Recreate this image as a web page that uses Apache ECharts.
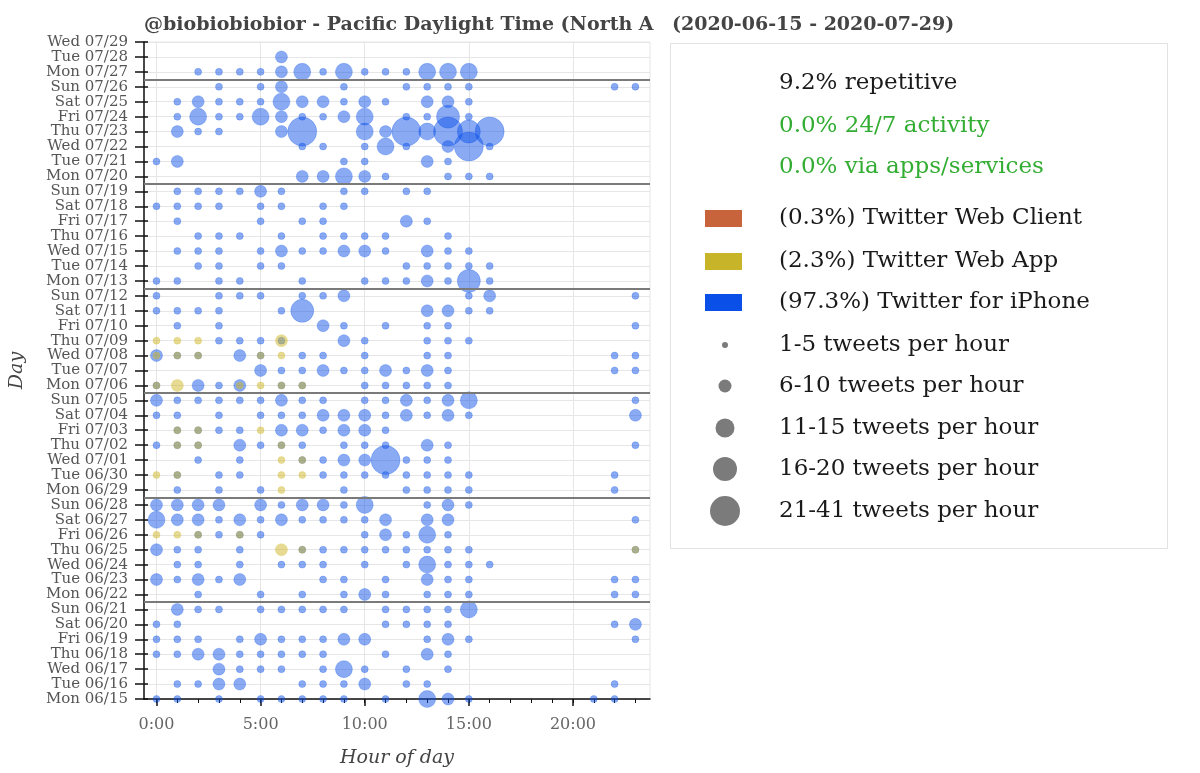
<!DOCTYPE html>
<html>
<head>
<meta charset="utf-8">
<script src="https://cdn.jsdelivr.net/npm/echarts@6/dist/echarts.min.js"></script>
<style>
    html, body { margin: 0; padding: 0; background: #fff; }
    #chart { width: 1200px; height: 773px; }
</style>
</head>
<body>
<div id="chart"></div>
<script>
// day rows, bottom (index 0) to top
const days = ['Mon 06/15', 'Tue 06/16', 'Wed 06/17', 'Thu 06/18', 'Fri 06/19', 'Sat 06/20', 'Sun 06/21',
    'Mon 06/22', 'Tue 06/23', 'Wed 06/24', 'Thu 06/25', 'Fri 06/26', 'Sat 06/27', 'Sun 06/28',
    'Mon 06/29', 'Tue 06/30', 'Wed 07/01', 'Thu 07/02', 'Fri 07/03', 'Sat 07/04', 'Sun 07/05',
    'Mon 07/06', 'Tue 07/07', 'Wed 07/08', 'Thu 07/09', 'Fri 07/10', 'Sat 07/11', 'Sun 07/12',
    'Mon 07/13', 'Tue 07/14', 'Wed 07/15', 'Thu 07/16', 'Fri 07/17', 'Sat 07/18', 'Sun 07/19',
    'Mon 07/20', 'Tue 07/21', 'Wed 07/22', 'Thu 07/23', 'Fri 07/24', 'Sat 07/25', 'Sun 07/26',
    'Mon 07/27', 'Tue 07/28', 'Wed 07/29'];

const hourTicks = [0, 5, 10, 15, 20];
const hourLabels = ['0:00', '5:00', '10:00', '15:00', '20:00'];
const minorHours = [0, 1, 2, 3, 4, 5, 6, 7, 8, 9, 10, 11, 12, 13, 14, 15, 16, 17, 18, 19, 20, 21, 22, 23];

// tweets per hour, [hour, count]
const iphoneTweets = [
    ['07/28', [[6, 8]]],
    ['07/27', [[2, 3], [3, 3], [4, 3], [5, 3], [6, 8], [7, 13], [8, 3], [9, 13], [10, 3], [11, 3], [12, 3], [13, 13], [14, 13], [15, 13]]],
    ['07/26', [[3, 3], [5, 3], [6, 8], [9, 3], [12, 3], [13, 3], [14, 3], [15, 3], [22, 3], [23, 3]]],
    ['07/25', [[1, 3], [2, 8], [3, 3], [4, 3], [5, 3], [6, 13], [7, 8], [8, 8], [9, 3], [10, 8], [11, 3], [13, 8], [14, 8], [15, 3]]],
    ['07/24', [[1, 3], [2, 13], [3, 3], [4, 3], [5, 13], [6, 8], [7, 3], [8, 3], [9, 8], [10, 13], [12, 3], [13, 3], [14, 18], [15, 3]]],
    ['07/23', [[1, 8], [2, 3], [3, 3], [6, 8], [7, 30], [10, 13], [11, 8], [12, 30], [13, 13], [14, 30], [15, 18], [16, 30]]],
    ['07/22', [[7, 3], [8, 3], [10, 3], [11, 13], [12, 3], [14, 8], [15, 30], [16, 3]]],
    ['07/21', [[0, 3], [1, 8], [9, 3], [10, 3], [13, 8], [14, 3]]],
    ['07/20', [[7, 8], [8, 8], [9, 13], [10, 8], [11, 3], [14, 3], [15, 3], [16, 3]]],
    ['07/19', [[1, 3], [2, 3], [3, 3], [4, 3], [5, 8], [6, 3], [9, 3], [10, 3], [12, 3], [13, 3]]],
    ['07/18', [[0, 3], [1, 3], [2, 3], [3, 3], [5, 3], [6, 3], [8, 3], [9, 3]]],
    ['07/17', [[1, 3], [5, 3], [7, 3], [8, 3], [12, 8], [13, 3]]],
    ['07/16', [[2, 3], [3, 3], [4, 3], [6, 3], [8, 3], [9, 3], [10, 3], [11, 3], [14, 3]]],
    ['07/15', [[1, 3], [2, 3], [3, 3], [5, 3], [6, 8], [7, 3], [8, 3], [9, 8], [10, 8], [11, 3], [13, 8], [14, 3], [15, 3]]],
    ['07/14', [[2, 3], [3, 3], [5, 3], [6, 3], [12, 3], [13, 3], [14, 3], [15, 3], [16, 3]]],
    ['07/13', [[0, 3], [1, 3], [3, 3], [4, 3], [7, 3], [10, 3], [11, 3], [12, 3], [13, 8], [14, 3], [15, 18], [16, 3]]],
    ['07/12', [[0, 3], [3, 3], [4, 3], [5, 3], [7, 3], [8, 3], [9, 8], [15, 3], [16, 8], [23, 3]]],
    ['07/11', [[0, 3], [1, 3], [2, 3], [3, 3], [6, 3], [7, 18], [13, 8], [14, 8], [15, 3], [16, 3]]],
    ['07/10', [[1, 3], [3, 3], [8, 8], [9, 3], [11, 3], [13, 3], [14, 3], [23, 3]]],
    ['07/09', [[3, 3], [4, 3], [5, 3], [6, 3], [9, 8], [10, 3], [13, 3], [14, 3], [15, 3]]],
    ['07/08', [[0, 8], [1, 3], [2, 3], [4, 8], [5, 3], [7, 3], [8, 3], [10, 3], [13, 3], [14, 3], [22, 3], [23, 3]]],
    ['07/07', [[5, 8], [6, 3], [7, 3], [8, 8], [9, 3], [10, 3], [11, 8], [12, 3], [13, 8], [14, 3], [22, 3], [23, 3]]],
    ['07/06', [[0, 3], [2, 8], [3, 3], [4, 8], [6, 3], [7, 3], [10, 3], [11, 3], [12, 3], [13, 3], [14, 3]]],
    ['07/05', [[0, 8], [1, 3], [2, 3], [3, 3], [4, 3], [5, 3], [6, 8], [7, 3], [8, 3], [10, 3], [11, 3], [12, 8], [13, 3], [14, 8], [15, 13], [23, 3]]],
    ['07/04', [[0, 3], [1, 3], [3, 3], [5, 3], [6, 3], [7, 3], [8, 8], [9, 8], [10, 8], [11, 3], [12, 8], [13, 3], [14, 8], [15, 3], [23, 8]]],
    ['07/03', [[1, 3], [2, 3], [3, 3], [4, 3], [6, 8], [7, 8], [8, 3], [9, 8], [10, 8], [11, 3]]],
    ['07/02', [[0, 3], [1, 3], [2, 3], [4, 8], [5, 3], [6, 3], [7, 3], [9, 3], [10, 3], [11, 3], [13, 8], [14, 3], [23, 3]]],
    ['07/01', [[2, 3], [4, 3], [7, 3], [8, 3], [9, 8], [10, 8], [11, 30], [12, 3], [13, 3], [14, 3]]],
    ['06/30', [[1, 3], [3, 3], [4, 3], [8, 3], [9, 3], [10, 3], [11, 3], [12, 3], [13, 3], [14, 3], [15, 3], [22, 3]]],
    ['06/29', [[1, 3], [3, 3], [5, 3], [9, 3], [12, 3], [13, 3], [14, 3], [15, 3], [22, 3]]],
    ['06/28', [[0, 8], [1, 8], [2, 8], [3, 8], [5, 8], [6, 3], [7, 8], [8, 8], [9, 3], [10, 13], [13, 3], [14, 10], [15, 3]]],
    ['06/27', [[0, 13], [1, 8], [2, 8], [3, 3], [4, 8], [5, 3], [6, 8], [7, 3], [8, 3], [9, 3], [10, 3], [11, 8], [13, 8], [14, 8], [23, 3]]],
    ['06/26', [[2, 3], [3, 3], [4, 3], [5, 3], [10, 3], [11, 8], [12, 3], [13, 13], [14, 3]]],
    ['06/25', [[0, 8], [1, 3], [2, 3], [4, 3], [7, 3], [8, 3], [9, 3], [10, 3], [11, 3], [12, 3], [13, 3], [14, 3], [15, 3], [23, 3]]],
    ['06/24', [[1, 3], [2, 3], [4, 3], [6, 3], [7, 3], [8, 3], [10, 3], [12, 3], [13, 13], [14, 3], [15, 3], [16, 3]]],
    ['06/23', [[0, 8], [1, 3], [2, 8], [3, 3], [4, 8], [8, 3], [9, 3], [11, 3], [13, 8], [14, 3], [15, 3], [22, 3], [23, 3]]],
    ['06/22', [[2, 3], [5, 3], [7, 3], [9, 3], [10, 8], [11, 3], [13, 3], [14, 3], [15, 3], [22, 3], [23, 3]]],
    ['06/21', [[1, 8], [2, 3], [3, 3], [5, 3], [6, 3], [7, 3], [8, 3], [9, 3], [11, 3], [12, 3], [13, 3], [14, 3], [15, 13]]],
    ['06/20', [[0, 3], [1, 3], [11, 3], [12, 3], [13, 3], [14, 3], [22, 3], [23, 8]]],
    ['06/19', [[0, 3], [1, 3], [2, 3], [4, 3], [5, 8], [6, 3], [7, 3], [8, 3], [9, 8], [10, 8], [13, 3], [14, 8], [15, 3], [23, 3]]],
    ['06/18', [[0, 3], [1, 3], [2, 8], [3, 8], [4, 3], [5, 3], [6, 3], [7, 3], [8, 3], [11, 3], [13, 8], [14, 3]]],
    ['06/17', [[3, 8], [4, 3], [5, 3], [6, 3], [8, 3], [9, 13], [10, 3], [12, 3], [14, 3]]],
    ['06/16', [[1, 3], [2, 3], [3, 8], [4, 8], [7, 3], [8, 3], [9, 3], [10, 8], [12, 3], [13, 3], [22, 3]]],
    ['06/15', [[0, 3], [1, 3], [3, 3], [5, 3], [6, 3], [7, 3], [8, 3], [9, 3], [11, 3], [13, 13], [14, 8], [15, 3], [21, 3], [22, 3]]]
];

const webAppTweets = [
    ['07/09', [[0, 3], [1, 3], [2, 3], [6, 8]]],
    ['07/08', [[0, 3], [1, 3], [2, 3], [5, 3], [6, 3]]],
    ['07/06', [[0, 3], [1, 8], [4, 3], [5, 3], [6, 3], [7, 3]]],
    ['07/03', [[1, 3], [2, 3], [5, 3]]],
    ['07/02', [[1, 3], [2, 3], [6, 3]]],
    ['07/01', [[6, 3], [7, 3]]],
    ['06/30', [[0, 3], [1, 3], [6, 3], [7, 3]]],
    ['06/29', [[6, 3]]],
    ['06/26', [[0, 3], [1, 3], [2, 3], [4, 3]]],
    ['06/25', [[6, 8], [7, 3], [23, 3]]]
];

const statLines = ['9.2% repetitive', '0.0% 24/7 activity', '0.0% via apps/services'];
const sourceNames = ['(0.3%) Twitter Web Client', '(2.3%) Twitter Web App', '(97.3%) Twitter for iPhone'];
const sizeNames = ['1-5 tweets per hour', '6-10 tweets per hour', '11-15 tweets per hour', '16-20 tweets per hour', '21-41 tweets per hour'];

const SERIF = '"DejaVu Serif", serif';
const sourceColors = ['#c8643c', '#c8b428', '#0a50e8'];
const sizeSteps = [7, 12, 17, 23, 29];

function dotSize(count) {
    if (count <= 5) return sizeSteps[0];
    if (count <= 10) return sizeSteps[1];
    if (count <= 15) return sizeSteps[2];
    if (count <= 20) return sizeSteps[3];
    return sizeSteps[4];
}

function toPoints(rows) {
    let pts = [];
    rows.forEach(row => {
        let idx = days.findIndex(d => d.endsWith(row[0]));
        row[1].forEach(p => pts.push([p[0], idx, p[1]]));
    });
    return pts;
}

// week separators sit just below each Monday
const weekLines = [];
days.forEach((d, i) => {
    if (d.startsWith('Mon') && i > 0) weekLines.push({yAxis: i - 0.5});
});

let chart = echarts.init(document.getElementById('chart'), null, {renderer: 'canvas'});

let legendEls = [];
legendEls.push({
    type: 'rect',
    shape: {x: 670.5, y: 43.5, width: 497, height: 505},
    style: {fill: '#fff', stroke: '#e3e3e3', lineWidth: 1}
});
statLines.forEach((t, i) => {
    legendEls.push({
        type: 'text',
        style: {
            text: t, x: 779, y: [83, 126, 167][i], verticalAlign: 'middle',
            fill: i === 0 ? '#1a1a1a' : '#33ad33', font: '23px ' + SERIF
        }
    });
});
sourceNames.forEach((t, i) => {
    let cy = [218, 261, 302][i];
    legendEls.push({
        type: 'rect',
        shape: {x: 705, y: cy - 8, width: 37, height: 17},
        style: {fill: sourceColors[i]}
    });
    legendEls.push({
        type: 'text',
        style: {text: t, x: 779, y: cy, verticalAlign: 'middle', fill: '#1a1a1a', font: '23px ' + SERIF}
    });
});
sizeNames.forEach((t, i) => {
    let cy = [345, 386, 428, 469, 511][i];
    legendEls.push({
        type: 'circle',
        shape: {cx: 725, cy: cy, r: [3, 6.5, 9.5, 12, 15][i]},
        style: {fill: 'rgba(100,100,100,0.85)'}
    });
    legendEls.push({
        type: 'text',
        style: {text: t, x: 779, y: cy, verticalAlign: 'middle', fill: '#1a1a1a', font: '23px ' + SERIF}
    });
});

let option = {
    backgroundColor: '#fff',
    animation: false,
    title: [
        {
            text: '@biobiobiobior - Pacific Daylight Time (North A',
            left: 139, top: 11,
            textStyle: {fontFamily: SERIF, fontWeight: 'bold', fontSize: 19, color: '#444'}
        },
        {
            text: '(2020-06-15 - 2020-07-29)',
            left: 667, top: 11,
            textStyle: {fontFamily: SERIF, fontWeight: 'bold', fontSize: 19, color: '#444'}
        }
    ],
    grid: {
        left: 144, right: 550, top: 42, bottom: 74,
        show: true, borderColor: '#e6e6e6', borderWidth: 1
    },
    xAxis: [
        {
            type: 'value', min: -0.6, max: 23.7, splitNumber: 5,
            name: 'Hour of day', nameLocation: 'middle', nameGap: 50,
            nameTextStyle: {fontFamily: SERIF, fontStyle: 'italic', fontSize: 19, color: '#444'},
            axisLine: {show: true, onZero: false, lineStyle: {color: '#111', width: 1.5}},
            axisTick: {show: true, customValues: hourTicks, length: 7, lineStyle: {color: '#111', width: 1.5}},
            axisLabel: {
                customValues: hourTicks, margin: 18,
                formatter: v => hourLabels[hourTicks.indexOf(v)],
                fontFamily: SERIF, fontSize: 16, color: '#666'
            },
            splitLine: {show: true, lineStyle: {color: '#e6e6e6', width: 1}}
        },
        {
            type: 'value', min: -0.6, max: 23.7, position: 'bottom',
            axisLine: {show: false, onZero: false},
            axisTick: {show: true, customValues: minorHours, length: 4, lineStyle: {color: '#111', width: 1}},
            axisLabel: {show: false},
            splitLine: {show: false}
        }
    ],
    yAxis: [
        {
            type: 'value', min: 0, max: days.length - 1, interval: 1,
            name: 'Day', nameLocation: 'middle', nameGap: 117, nameRotate: 90,
            nameTextStyle: {fontFamily: SERIF, fontStyle: 'italic', fontSize: 19, color: '#444'},
            axisLine: {show: true, onZero: false, lineStyle: {color: '#111', width: 1.5}},
            axisTick: {show: true, length: 9, lineStyle: {color: '#111', width: 1.5}},
            axisLabel: {
                margin: 16, formatter: v => days[v] || '',
                fontFamily: SERIF, fontSize: 15, color: '#555'
            },
            splitLine: {show: true, lineStyle: {color: '#e6e6e6', width: 1}}
        },
        {
            type: 'value', min: 0, max: days.length - 1, interval: 1, position: 'left',
            axisLine: {show: false, onZero: false},
            axisTick: {show: true, inside: true, length: 4, lineStyle: {color: '#111', width: 1.5}},
            axisLabel: {show: false},
            splitLine: {show: false}
        }
    ],
    series: [
        {
            name: 'weeks',
            type: 'scatter',
            data: [],
            z: 1,
            markLine: {
                silent: true, symbol: 'none',
                label: {show: false},
                lineStyle: {color: '#7a7a7a', width: 2, type: 'solid'},
                data: weekLines
            }
        },
        {
            name: 'Twitter for iPhone',
            type: 'scatter',
            z: 3,
            clip: true,
            data: toPoints(iphoneTweets),
            symbolSize: v => dotSize(v[2]),
            itemStyle: {color: 'rgba(10,80,232,0.6)', borderColor: 'rgba(10,80,232,0.3)', borderWidth: 1}
        },
        {
            name: 'Twitter Web App',
            type: 'scatter',
            z: 4,
            clip: true,
            data: toPoints(webAppTweets),
            symbolSize: v => dotSize(v[2]),
            itemStyle: {color: 'rgba(205,180,30,0.6)', borderColor: 'rgba(205,180,30,0.3)', borderWidth: 1}
        }
    ],
    graphic: legendEls
};

option && chart.setOption(option);
</script>
</body>
</html>
